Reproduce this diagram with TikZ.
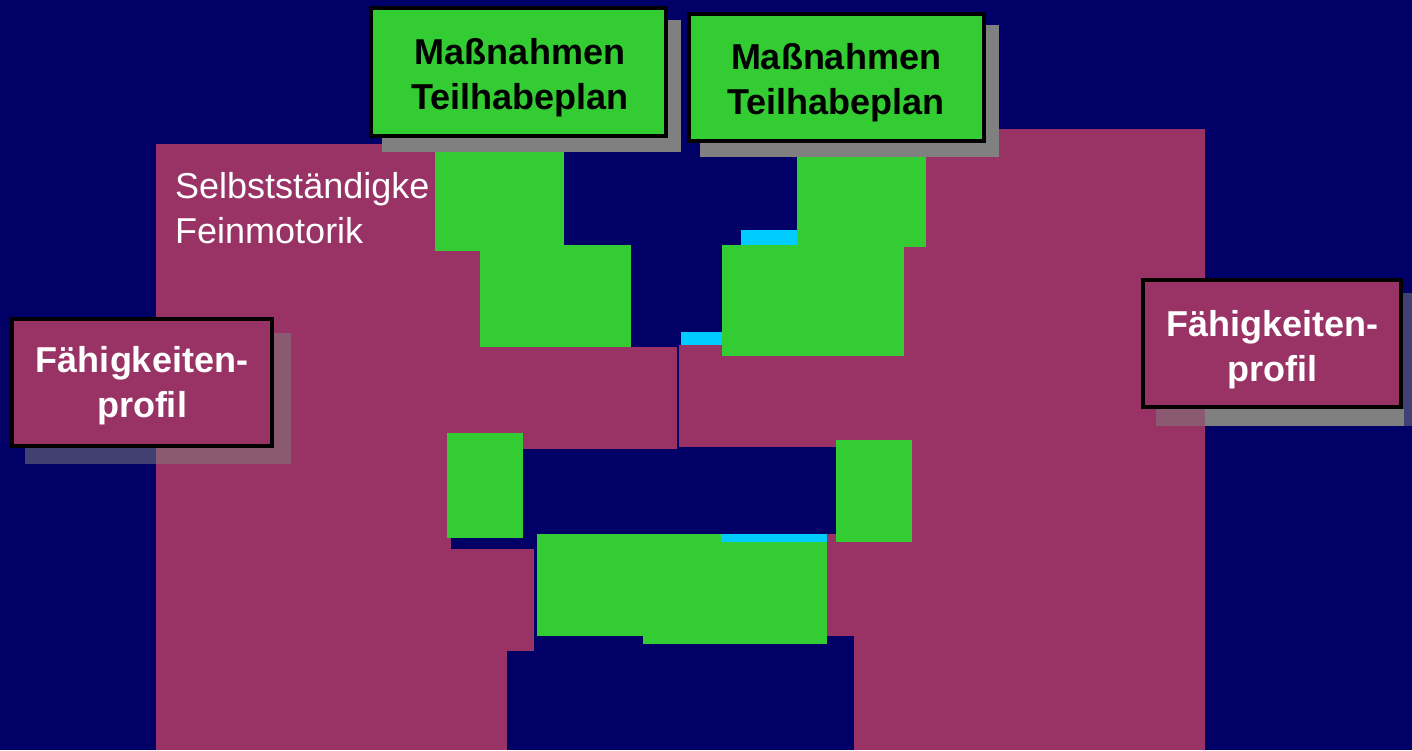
\documentclass[tikz,border=0pt]{standalone}
\usepackage{fontspec}
\setmainfont{Liberation Sans}
\definecolor{bgnavy}{RGB}{0,0,102}
\definecolor{plum}{RGB}{153,51,102}
\definecolor{leaf}{RGB}{51,204,51}
\definecolor{sky}{RGB}{0,204,255}
\definecolor{shade}{RGB}{128,128,128}
\begin{document}
\begin{tikzpicture}[x=1pt,y=-1pt,
  plumfill/.style={fill=plum},
  leaffill/.style={fill=leaf},
  skyfill/.style={fill=sky},
  solidshadow/.style={fill=shade},
  softshadow/.style={fill=shade, fill opacity=0.5},
  greenbox/.style={draw=black, line width=4pt, fill=leaf, inner sep=0pt, minimum width=295pt},
  plumbox/.style={draw=black, line width=4pt, fill=plum, inner sep=0pt},
  boxtext/.style={anchor=base, inner sep=0pt, font=\fontsize{36}{45}\selectfont\bfseries},
  plaintext/.style={anchor=base west, inner sep=0pt, text=white, font=\fontsize{36}{45}\selectfont}]
\useasboundingbox (0,0) rectangle (1412,750);
% background
\fill[bgnavy] (0,0) rectangle (1412,750);
% left plum block
\fill[plumfill] (156,144) rectangle (500,347);
\fill[plumfill] (156,347) rectangle (677,449);
\fill[plumfill] (156,449) rectangle (451,750);
\fill[plumfill] (156,549) rectangle (534,651);
\fill[plumfill] (156,651) rectangle (507,750);
% right plum block
\fill[plumfill] (854,129) rectangle (1205,750);
\fill[plumfill] (679,345) rectangle (1205,447);
\fill[plumfill] (800,534) rectangle (1205,636);
% text on the plum block
\node[plaintext] (selb) at (175,198) {Selbstständigke};
\node[plaintext] (fein) at (175,243) {Feinmotorik};
% green pieces
\fill[leaffill] (435,140) rectangle (564,251);
\fill[leaffill] (480,245) rectangle (631,347);
\fill[leaffill] (447,433) rectangle (523,538);
\fill[leaffill] (797,150) rectangle (926,247);
\fill[leaffill] (722,245) rectangle (904,356);
\fill[leaffill] (836,440) rectangle (912,542);
\fill[leaffill] (537,534) rectangle (721,636);
\fill[leaffill] (643,542) rectangle (827,644);
% cyan strips
\fill[skyfill] (741,230) rectangle (797,245);
\fill[skyfill] (681,332) rectangle (722,345);
\fill[skyfill] (721,534) rectangle (827,542);
% top-left box
\fill[solidshadow] (382,20) rectangle (681,152);
\node[greenbox, minimum height=128pt] (mtl) at (518.5,72) {};
\node[boxtext] (mtla) at (520,64) {Maßnahmen};
\node[boxtext] (mtlb) at (520,109) {Teilhabeplan};
% top-right box
\fill[solidshadow] (700,25) rectangle (999,157);
\node[greenbox, minimum height=127pt] (mtr) at (836.5,77.5) {};
\node[boxtext] (mtra) at (836,69) {Maßnahmen};
\node[boxtext] (mtrb) at (836,114) {Teilhabeplan};
% left profile box
\fill[softshadow] (25,333) rectangle (291,464);
\node[plumbox, minimum width=260pt, minimum height=127pt] (fpl) at (142,382.5) {};
\node[boxtext, text=white] (fpla) at (142,372) {Fähigkeiten-};
\node[boxtext, text=white] (fplb) at (142,417) {profil};
% right profile box
\fill[softshadow] (1156,293) rectangle (1412,426);
\fill[solidshadow] (1205,409) rectangle (1404,426);
\node[plumbox, minimum width=258pt, minimum height=127pt] (fpr) at (1272,343.5) {};
\node[boxtext, text=white] (fpra) at (1272,336) {Fähigkeiten-};
\node[boxtext, text=white] (fprb) at (1272,381) {profil};
\end{tikzpicture}
\end{document}
